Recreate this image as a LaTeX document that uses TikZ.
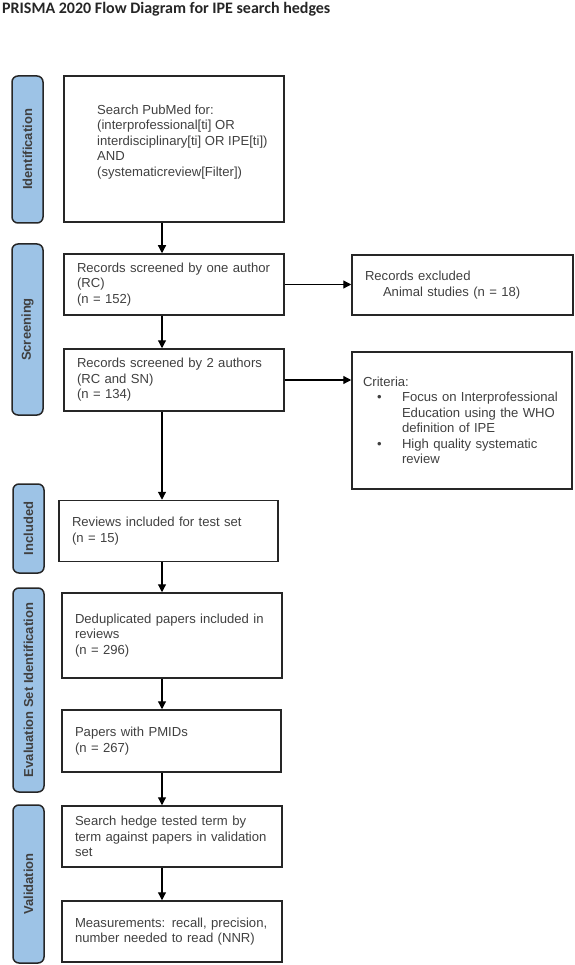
\documentclass[tikz,border=0pt]{standalone}
\usepackage{fontspec}
\setmainfont{Liberation Sans}
\newfontfamily\titlefont{Carlito}
\usetikzlibrary{arrows.meta}
\definecolor{stageblue}{HTML}{9DC3E6}
\definecolor{textgray}{HTML}{404040}
\definecolor{edgegray}{HTML}{262626}
\newcommand{\bodyfont}{\fontsize{13.1}{15.5}\selectfont}
\tikzset{
    box/.style={draw=edgegray, line width=1.5pt, align=left, inner xsep=13pt, inner ysep=2pt, text=textgray, font=\bodyfont},
    stage/.style={draw=edgegray, fill=stageblue, line width=1.5pt, rounded corners=6pt, rotate=90, minimum height=31pt, inner sep=0pt, text=textgray, font=\fontsize{13}{15}\selectfont\bfseries},
    flow/.style={draw=black, line width=1.2pt, -{Triangle[length=8pt,width=8pt]}}
}
\begin{document}
\begin{tikzpicture}[x=1pt,y=-1pt]
            \useasboundingbox (0,0) rectangle (574,965);

            \node[anchor=base west, inner sep=0pt, text=black!85, font={\fontsize{16}{19}\titlefont\bfseries}] (title) at (2,14) {PRISMA 2020 Flow Diagram for IPE search hedges};

            \node[stage, minimum width=147pt] (ident)   at (27.5,149.5) {Identification};
            \node[stage, minimum width=171pt] (screen)  at (27.5,329.5) {Screening};
            \node[stage, minimum width=89pt]  (incl)    at (28.5,528.5) {Included};
            \node[stage, minimum width=204pt] (evalset) at (28.5,690)   {Evaluation Set Identification};
            \node[stage, minimum width=158pt] (valid)   at (28.5,884)   {Validation};

            \node[box, text width=194pt, minimum height=146pt] (search) at (174,149) {};
            \node[anchor=west, align=left, inner sep=0pt, text=textgray, font=\bodyfont] (searchtext) at (97,142)
                {Search PubMed for:\\(interprofessional[ti] OR\\interdisciplinary[ti] OR IPE[ti])\\AND\\(systematicreview[Filter])};
            \node[box, text width=194pt, minimum height=61pt] (rec1) at (174,284.5) {Records screened by one author\\(RC)\\(n = 152)};
            \node[box, text width=195pt, minimum height=60pt] (excl) at (462.5,285) {Records excluded\\\hspace*{18pt}Animal studies (n = 18)};
            \node[box, text width=194pt, minimum height=62pt] (rec2) at (174,380) {Records screened by 2 authors\\(RC and SN)\\(n = 134)};
            \node[box, inner xsep=11pt, text width=198pt, minimum height=137pt] (crit) at (462,420.5)
                {Criteria:\\
                \hspace*{14pt}\makebox[25pt][l]{\textbullet}Focus on Interprofessional\\
                \hspace*{39pt}Education using the WHO\\
                \hspace*{39pt}definition of IPE\\
                \hspace*{14pt}\makebox[25pt][l]{\textbullet}High quality systematic\\
                \hspace*{39pt}review};
            \node[box, text width=193pt, minimum height=61pt] (reviews) at (168.5,531) {Reviews included for test set\\(n = 15)};
            \node[box, text width=194pt, minimum height=85pt] (dedup)   at (172,635.5) {Deduplicated papers included in\\reviews\\(n = 296)};
            \node[box, text width=193pt, minimum height=62pt] (papers)  at (171.5,741)  {Papers with PMIDs\\(n = 267)};
            \node[box, text width=194pt, minimum height=61pt] (hedge)   at (172,836.5) {Search hedge tested term by\\term against papers in validation\\set};
            \node[box, text width=194pt, minimum height=61pt] (measure) at (172,931.5) {Measurements: recall, precision,\\number needed to read (NNR)};

            \coordinate (spine) at (162,0);
            \draw[flow] (spine |- search.south)  -- (spine |- rec1.north);
            \draw[flow] (spine |- rec1.south)    -- (spine |- rec2.north);
            \draw[flow] (spine |- rec2.south)    -- (spine |- reviews.north);
            \draw[flow] (spine |- reviews.south) -- (spine |- dedup.north);
            \draw[flow] (spine |- dedup.south)   -- (spine |- papers.north);
            \draw[flow] (spine |- papers.south)  -- (spine |- hedge.north);
            \draw[flow] (spine |- hedge.south)   -- (spine |- measure.north);
            \draw[flow] (rec1.east) -- (rec1.east -| excl.west);
            \draw[flow] (rec2.east) -- (rec2.east -| crit.west);
\end{tikzpicture}
\end{document}
